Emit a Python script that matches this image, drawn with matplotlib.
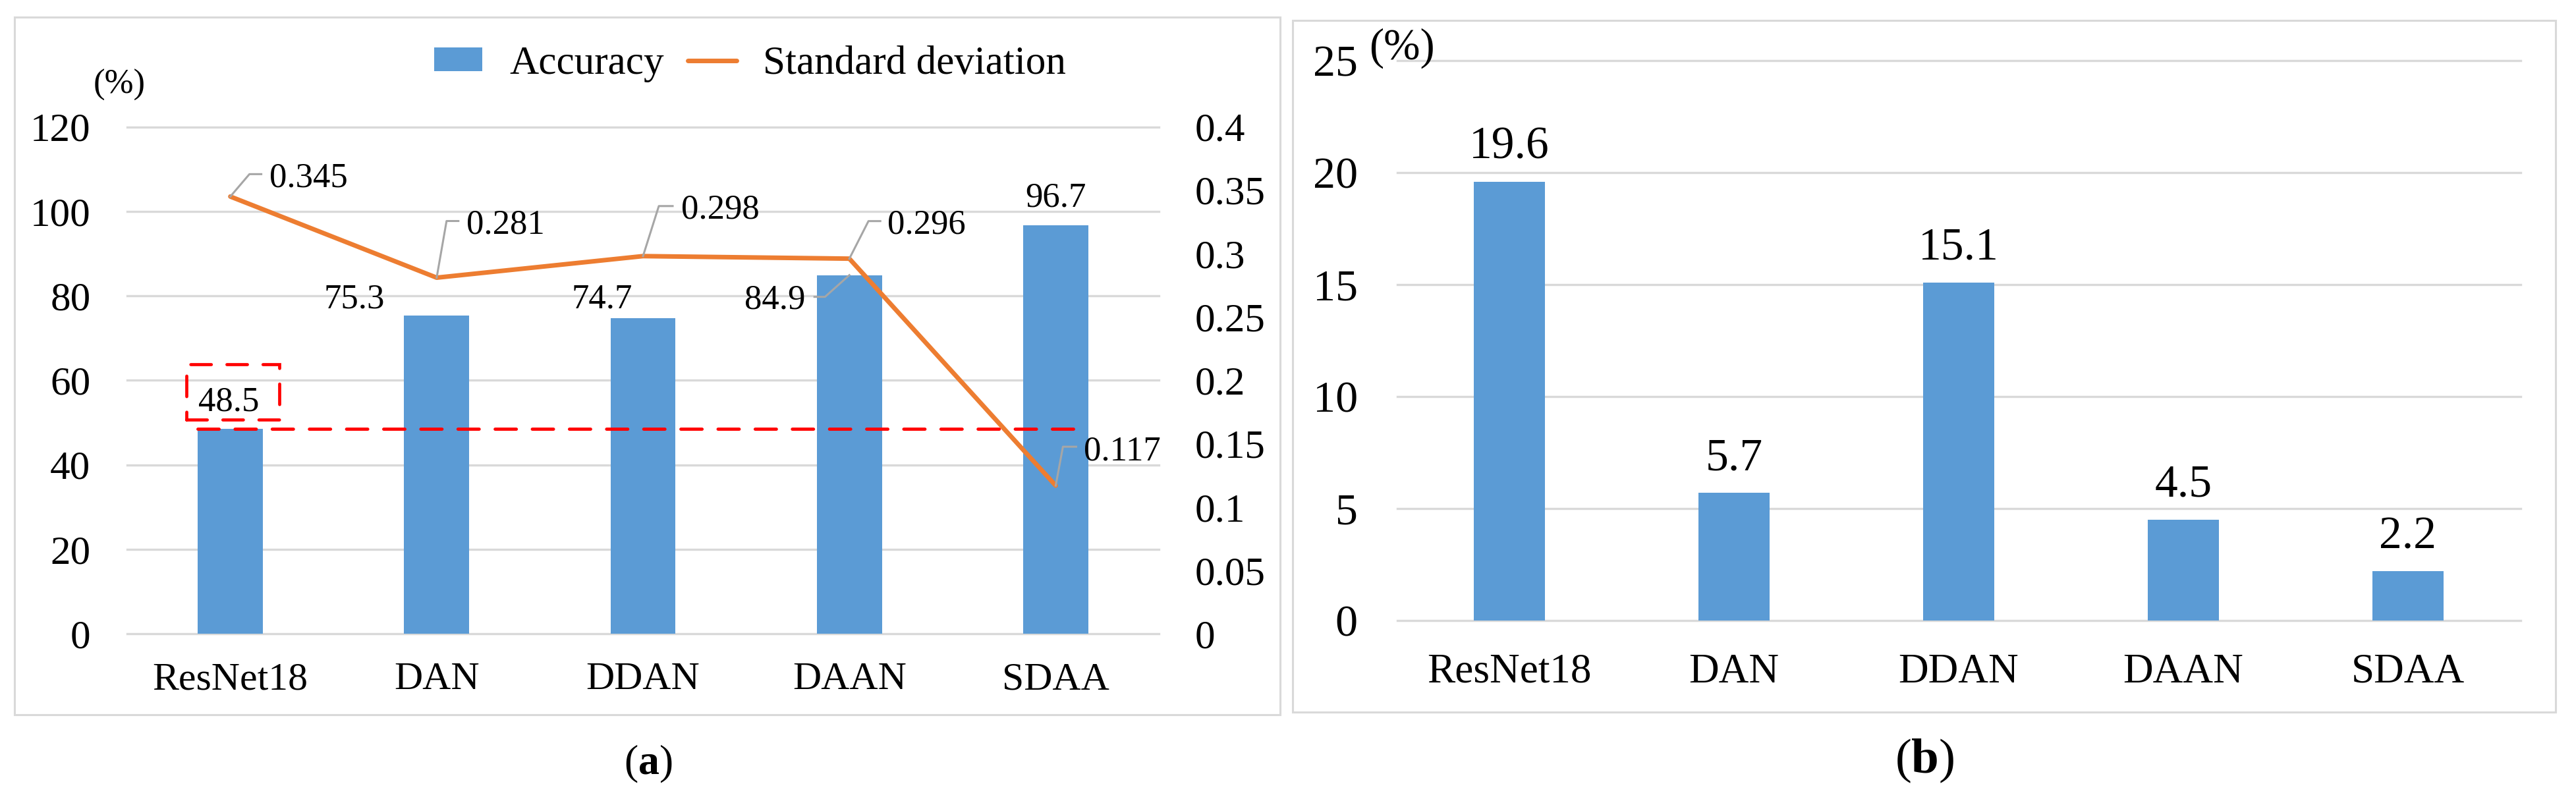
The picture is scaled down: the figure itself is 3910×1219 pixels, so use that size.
import numpy as np
import matplotlib
matplotlib.use("Agg")
import matplotlib.pyplot as plt
from matplotlib.lines import Line2D
from matplotlib.patches import Rectangle, Patch
from matplotlib.ticker import FuncFormatter
from matplotlib.transforms import IdentityTransform

# ---- data ----
methods = ["ResNet18", "DAN", "DDAN", "DAAN", "SDAA"]
accuracy = [48.5, 75.3, 74.7, 84.9, 96.7]          # (a) bars, %
std_dev = [0.345, 0.281, 0.298, 0.296, 0.117]     # (a) line, right axis
gap = [19.6, 5.7, 15.1, 4.5, 2.2]                 # (b) bars, %

acc_ticks = [0, 20, 40, 60, 80, 100, 120]
std_ticks = [0, 0.05, 0.1, 0.15, 0.2, 0.25, 0.3, 0.35, 0.4]
gap_ticks = [0, 5, 10, 15, 20, 25]

BLUE = "#5B9BD5"
ORANGE = "#ED7D31"
GRID = "#D9D9D9"
LEADER = "#A6A6A6"
RED = "#FF0000"

plt.rcParams["font.family"] = ["Liberation Serif", "DejaVu Serif"]
plt.rcParams["mathtext.fontset"] = "custom"
plt.rcParams["mathtext.rm"] = "Liberation Serif"
plt.rcParams["mathtext.bf"] = "Liberation Serif:bold"

W, H = 3910, 1219
fig = plt.figure(figsize=(W / 100, H / 100), dpi=100)


def px_rect(x0, y0, x1, y1):
    # pixel box measured from the top-left corner -> figure fraction
    return [x0 / W, 1 - y1 / H, (x1 - x0) / W, (y1 - y0) / H]


def style_axis(ax, size, pad):
    for s in ax.spines.values():
        s.set_visible(False)
    ax.tick_params(length=0, labelsize=size, pad=pad)


def leader(ax, x, y, elbow, end):
    # Excel-like leader line, offsets in pixels from the data point
    px, py = ax.transData.transform((x, y))
    xs = [px, px + elbow[0], px + end]
    ys = [py, py + elbow[1], py + elbow[1]]
    fig.add_artist(Line2D(xs, ys, transform=IdentityTransform(),
                          color=LEADER, lw=2.2, zorder=5))


# outer frames
for box in [(22, 26, 1943, 1085), (1962, 31, 3879, 1081)]:
    r = px_rect(*box)
    fig.add_artist(Rectangle((r[0], r[1]), r[2], r[3], transform=fig.transFigure,
                             fill=False, ec=GRID, lw=2.2))

# ================= (a) =================
x = np.arange(len(methods))
bw_a = 0.316
ax = fig.add_axes(px_rect(193, 192.5, 1759, 962.3))
ax.bar(x, accuracy, bw_a, color=BLUE, zorder=2)
ax.set_xlim(-0.5, len(methods) - 0.5)
ax.set_ylim(0, 120)
ax.set_yticks(acc_ticks)
ax.set_xticks(x, methods)
style_axis(ax, 44, 40)
ax.tick_params(axis="x", labelsize=43, pad=31)
ax.set_axisbelow(True)
ax.yaxis.grid(True, color=GRID, lw=2.4)
for gl in ax.get_ygridlines():
    gl.set_clip_on(False)

ax2 = ax.twinx()
ax2.plot(x, std_dev, color=ORANGE, lw=5, solid_capstyle="round",
         solid_joinstyle="round", zorder=3)
ax2.set_ylim(0, 0.4)
ax2.set_yticks(std_ticks)
ax2.yaxis.set_major_formatter(FuncFormatter(lambda v, p: f"{v:g}"))
style_axis(ax2, 44, 39)

# red dashed reference at the ResNet18 accuracy
ax2.plot([x[0] - bw_a / 2, x[-1] + bw_a / 2], [accuracy[0]] * 2, transform=ax.transData,
         color=RED, lw=3.5, dashes=(6.6, 5), dash_capstyle="round", zorder=6)
ax2.add_patch(Rectangle((-0.212, 50.7), 0.45, 13.1, transform=ax.transData, fill=False,
                        ec=RED, lw=3.4, ls=(0, (6.6, 5)), capstyle="round", zorder=6))

# accuracy labels: (dx, dy) in pixels from the bar top, baseline anchored
acc_off = [(-2, 28), (-79, 12), (-62, 16), (-67, -51), (0, 28)]
for i, v in enumerate(accuracy):
    dx, dy = acc_off[i]
    ha = "right" if dx < -64 else "center"
    ax2.annotate(f"{v:.1f}", xy=(i, v), xycoords=ax.transData, xytext=(dx, dy),
                 textcoords="offset pixels", ha=ha, va="baseline", fontsize=38, zorder=7)
leader(ax, 3, accuracy[3], (-37, -33), -53)

# std labels: elbow offset, leader end, text offset (pixels)
std_off = [((29, 34), 47, (59, 15)),
           ((15, 86), 33, (45, 67)),
           ((24, 76), 45, (58, 57)),
           ((29, 57), 47, (58, 38)),
           ((11, 59), 31, (43, 39))]
for i, v in enumerate(std_dev):
    elbow, end, (tx, ty) = std_off[i]
    leader(ax2, i, v, elbow, end)
    ax2.annotate(f"{v:.3f}", xy=(i, v), xytext=(tx, ty), textcoords="offset pixels",
                 ha="left", va="baseline", fontsize=38, zorder=7)

handles = [Patch(facecolor=BLUE),
           Line2D([], [], color=ORANGE, lw=5, solid_capstyle="round")]
fig.legend(handles, ["Accuracy", "Standard deviation"], loc="center",
           bbox_to_anchor=(1138.5 / W, 1 - 97 / H), ncol=2, frameon=False, fontsize=44,
           handlelength=1.2, handleheight=0.52, handletextpad=0.67, columnspacing=0.6,
           borderpad=0)

fig.text(142 / W, 1 - 142 / H, "(%)", fontsize=38, ha="left", va="baseline")
fig.text(984 / W, 1 - 1160 / H, r"($\mathbf{a}$)", fontsize=46, ha="center", va="center")

# ================= (b) =================
bx = fig.add_axes(px_rect(2120.5, 92, 3825.5, 942))
bx.bar(x, gap, 0.317, color=BLUE, zorder=2)
bx.set_xlim(-0.5, len(methods) - 0.5)
bx.set_ylim(0, 25)
bx.set_yticks(gap_ticks)
bx.set_xticks(x, methods)
style_axis(bx, 49, 43)
bx.tick_params(axis="x", labelsize=45.5, pad=36)
bx.set_axisbelow(True)
bx.yaxis.grid(True, color=GRID, lw=2.4)
for gl in bx.get_ygridlines():
    gl.set_clip_on(False)
for i, v in enumerate(gap):
    bx.annotate(f"{v:.1f}", xy=(i, v), xytext=(0, 35), textcoords="offset pixels",
                ha="center", va="baseline", fontsize=50)

fig.text(2078 / W, 1 - 90 / H, "(%)", fontsize=48, ha="left", va="baseline")
fig.text(2921 / W, 1 - 1155 / H, r"($\mathbf{b}$)", fontsize=54, ha="center", va="center")

fig.savefig("out.png", dpi=100, facecolor="white")
